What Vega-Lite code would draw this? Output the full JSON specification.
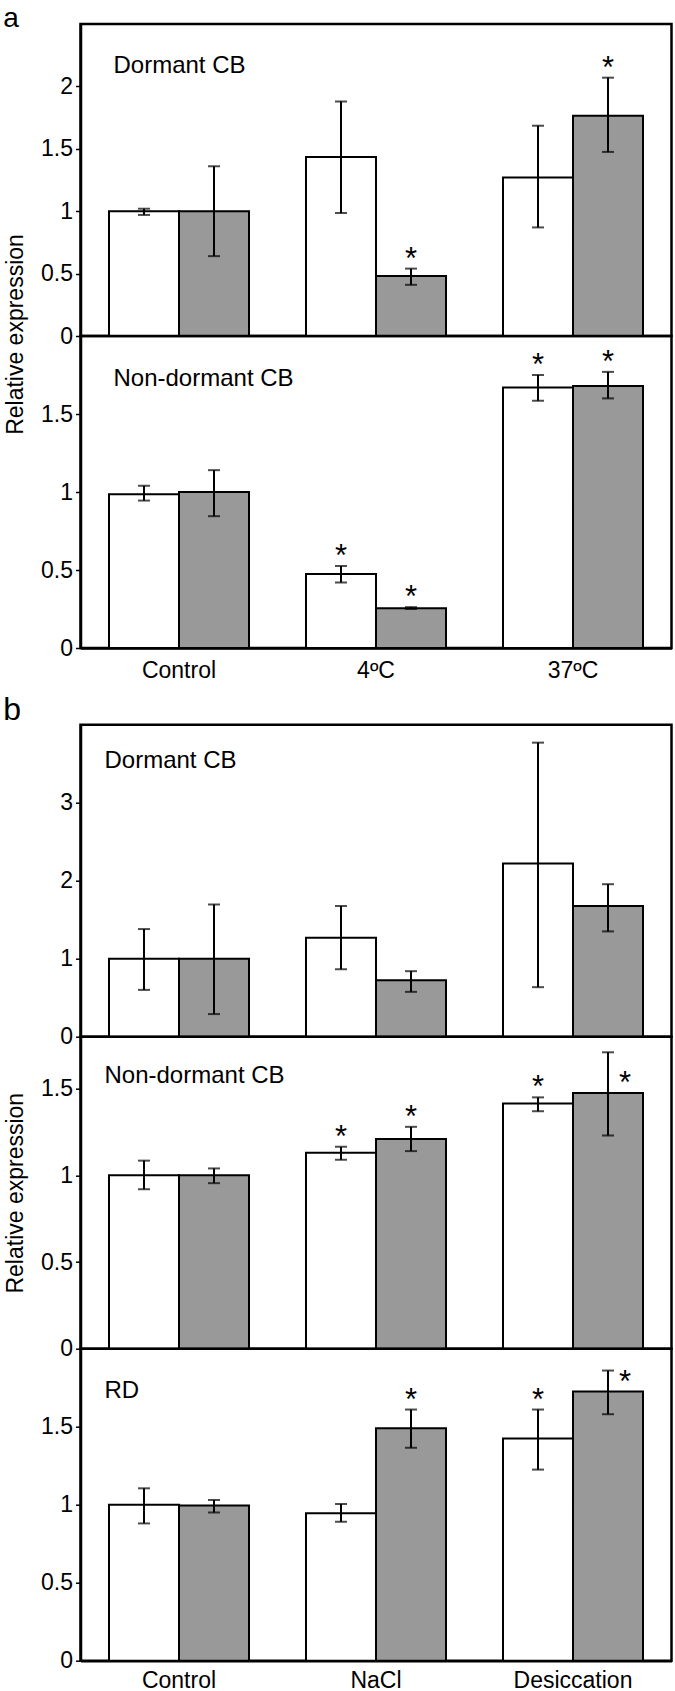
{
  "$schema": "https://vega.github.io/schema/vega-lite/v6.json",
  "padding": {"left": 2.5, "top": 5, "right": 5, "bottom": 0},
  "background": "white",
  "config": {
    "view": {"stroke": "black", "strokeWidth": 2.5},
    "font": "Liberation Sans",
    "axis": {"domainColor": "black", "domainWidth": 2.5, "tickColor": "black", "tickWidth": 1.5, "tickSize": 5, "labelColor": "black", "labelFont": "Liberation Sans", "labelFontSize": 23, "labelPadding": 3, "grid": false, "titleFont": "Liberation Sans", "titleFontSize": 23, "titleFontWeight": "normal", "titleColor": "black"},
    "axisX": {"labelAngle": 0, "ticks": false, "labelPadding": 11, "title": null},
    "title": {"font": "Liberation Sans", "color": "black", "fontWeight": "normal"},
    "text": {"font": "Liberation Sans"}
  },
  "datasets": {
    "bars": [
      {"panel": "a1", "treatment": "Control", "series": "S1", "mean": 1.0, "lower": 0.97, "upper": 1.02, "star": ""},
      {"panel": "a1", "treatment": "Control", "series": "S2", "mean": 1.0, "lower": 0.64, "upper": 1.36, "star": ""},
      {"panel": "a1", "treatment": "4ºC", "series": "S1", "mean": 1.435, "lower": 0.985, "upper": 1.88, "star": ""},
      {"panel": "a1", "treatment": "4ºC", "series": "S2", "mean": 0.48, "lower": 0.41, "upper": 0.54, "star": "top"},
      {"panel": "a1", "treatment": "37ºC", "series": "S1", "mean": 1.27, "lower": 0.87, "upper": 1.685, "star": ""},
      {"panel": "a1", "treatment": "37ºC", "series": "S2", "mean": 1.765, "lower": 1.475, "upper": 2.07, "star": "top"},
      {"panel": "a2", "treatment": "Control", "series": "S1", "mean": 0.985, "lower": 0.945, "upper": 1.04, "star": ""},
      {"panel": "a2", "treatment": "Control", "series": "S2", "mean": 1.0, "lower": 0.845, "upper": 1.14, "star": ""},
      {"panel": "a2", "treatment": "4ºC", "series": "S1", "mean": 0.475, "lower": 0.42, "upper": 0.525, "star": "top"},
      {"panel": "a2", "treatment": "4ºC", "series": "S2", "mean": 0.255, "lower": 0.25, "upper": 0.262, "star": "top"},
      {"panel": "a2", "treatment": "37ºC", "series": "S1", "mean": 1.67, "lower": 1.585, "upper": 1.75, "star": "top"},
      {"panel": "a2", "treatment": "37ºC", "series": "S2", "mean": 1.68, "lower": 1.6, "upper": 1.77, "star": "top"},
      {"panel": "b1", "treatment": "Control", "series": "S1", "mean": 1.0, "lower": 0.6, "upper": 1.38, "star": ""},
      {"panel": "b1", "treatment": "Control", "series": "S2", "mean": 1.0, "lower": 0.29, "upper": 1.695, "star": ""},
      {"panel": "b1", "treatment": "NaCl", "series": "S1", "mean": 1.27, "lower": 0.865, "upper": 1.675, "star": ""},
      {"panel": "b1", "treatment": "NaCl", "series": "S2", "mean": 0.725, "lower": 0.575, "upper": 0.84, "star": ""},
      {"panel": "b1", "treatment": "Desiccation", "series": "S1", "mean": 2.22, "lower": 0.635, "upper": 3.77, "star": ""},
      {"panel": "b1", "treatment": "Desiccation", "series": "S2", "mean": 1.675, "lower": 1.35, "upper": 1.955, "star": ""},
      {"panel": "b2", "treatment": "Control", "series": "S1", "mean": 1.0, "lower": 0.92, "upper": 1.085, "star": ""},
      {"panel": "b2", "treatment": "Control", "series": "S2", "mean": 1.0, "lower": 0.955, "upper": 1.04, "star": ""},
      {"panel": "b2", "treatment": "NaCl", "series": "S1", "mean": 1.13, "lower": 1.09, "upper": 1.165, "star": "top"},
      {"panel": "b2", "treatment": "NaCl", "series": "S2", "mean": 1.21, "lower": 1.14, "upper": 1.28, "star": "top"},
      {"panel": "b2", "treatment": "Desiccation", "series": "S1", "mean": 1.415, "lower": 1.37, "upper": 1.45, "star": "top"},
      {"panel": "b2", "treatment": "Desiccation", "series": "S2", "mean": 1.475, "lower": 1.23, "upper": 1.71, "star": "side"},
      {"panel": "b3", "treatment": "Control", "series": "S1", "mean": 1.0, "lower": 0.88, "upper": 1.105, "star": ""},
      {"panel": "b3", "treatment": "Control", "series": "S2", "mean": 0.995, "lower": 0.95, "upper": 1.03, "star": ""},
      {"panel": "b3", "treatment": "NaCl", "series": "S1", "mean": 0.945, "lower": 0.89, "upper": 1.005, "star": ""},
      {"panel": "b3", "treatment": "NaCl", "series": "S2", "mean": 1.49, "lower": 1.365, "upper": 1.61, "star": "top"},
      {"panel": "b3", "treatment": "Desiccation", "series": "S1", "mean": 1.425, "lower": 1.225, "upper": 1.61, "star": "top"},
      {"panel": "b3", "treatment": "Desiccation", "series": "S2", "mean": 1.725, "lower": 1.58, "upper": 1.86, "star": "side"}
    ]
  },
  "spacing": 9.7,
  "vconcat": [
    {
      "title": {"text": "a", "anchor": "start", "frame": "bounds", "fontSize": 28, "offset": -32.7, "baseline": "alphabetic"},
      "bounds": "flush",
      "spacing": 0,
      "vconcat": [
        {
          "width": 591, "height": 312,
          "data": {"name": "bars"},
          "title": {"text": "Dormant CB", "anchor": "start", "frame": "group", "offset": -73.3, "dx": 33, "baseline": "alphabetic", "fontSize": 24},
          "transform": [{"filter": "datum.panel === 'a1'"}],
          "encoding": {
            "x": {"field": "treatment", "type": "nominal", "sort": ["Control", "4ºC", "37ºC"], "scale": {"paddingInner": 0, "paddingOuter": 0}, "axis": null},
            "xOffset": {"field": "series", "type": "nominal", "sort": ["S1", "S2"], "scale": {"paddingInner": 0, "paddingOuter": 0.407}}
          },
          "layer": [
            {"mark": {"type": "bar", "stroke": "black", "strokeWidth": 2}, "encoding": {"y": {"field": "mean", "type": "quantitative", "scale": {"domain": [0, 2.5], "nice": false}, "axis": {"values": [0, 0.5, 1, 1.5, 2], "format": "~g", "title": "Relative expression", "titleX": -58, "titleY": 310, "titleBaseline": "alphabetic", "titleAlign": "center"}}, "fill": {"field": "series", "type": "nominal", "scale": {"domain": ["S1", "S2"], "range": ["white", "#999999"]}, "legend": null}}},
            {"mark": {"type": "rule", "color": "black", "strokeWidth": 2}, "encoding": {"y": {"field": "lower", "type": "quantitative"}, "y2": {"field": "upper"}}},
            {"mark": {"type": "tick", "color": "black", "thickness": 2, "size": 12}, "encoding": {"y": {"field": "upper", "type": "quantitative"}}},
            {"mark": {"type": "tick", "color": "black", "thickness": 2, "size": 12}, "encoding": {"y": {"field": "lower", "type": "quantitative"}}},
            {"transform": [{"filter": "datum.star === 'top'"}], "mark": {"type": "text", "text": "*", "fontSize": 31, "dy": 0, "baseline": "alphabetic", "color": "black"}, "encoding": {"y": {"field": "upper", "type": "quantitative"}}},
            {"transform": [{"filter": "datum.star === 'side'"}], "mark": {"type": "text", "text": "*", "fontSize": 31, "dy": 0, "dx": 17, "baseline": "alphabetic", "color": "black"}, "encoding": {"y": {"field": "mean", "type": "quantitative"}}}
          ]
        },
        {
          "width": 591, "height": 312,
          "data": {"name": "bars"},
          "title": {"text": "Non-dormant CB", "anchor": "start", "frame": "group", "offset": -74.3, "dx": 33, "baseline": "alphabetic", "fontSize": 24},
          "transform": [{"filter": "datum.panel === 'a2'"}],
          "encoding": {
            "x": {"field": "treatment", "type": "nominal", "sort": ["Control", "4ºC", "37ºC"], "scale": {"paddingInner": 0, "paddingOuter": 0}},
            "xOffset": {"field": "series", "type": "nominal", "sort": ["S1", "S2"], "scale": {"paddingInner": 0, "paddingOuter": 0.407}}
          },
          "layer": [
            {"mark": {"type": "bar", "stroke": "black", "strokeWidth": 2}, "encoding": {"y": {"field": "mean", "type": "quantitative", "scale": {"domain": [0, 2], "nice": false}, "axis": {"values": [0, 0.5, 1, 1.5], "format": "~g", "title": null}}, "fill": {"field": "series", "type": "nominal", "scale": {"domain": ["S1", "S2"], "range": ["white", "#999999"]}, "legend": null}}},
            {"mark": {"type": "rule", "color": "black", "strokeWidth": 2}, "encoding": {"y": {"field": "lower", "type": "quantitative"}, "y2": {"field": "upper"}}},
            {"mark": {"type": "tick", "color": "black", "thickness": 2, "size": 12}, "encoding": {"y": {"field": "upper", "type": "quantitative"}}},
            {"mark": {"type": "tick", "color": "black", "thickness": 2, "size": 12}, "encoding": {"y": {"field": "lower", "type": "quantitative"}}},
            {"transform": [{"filter": "datum.star === 'top'"}], "mark": {"type": "text", "text": "*", "fontSize": 31, "dy": 0, "baseline": "alphabetic", "color": "black"}, "encoding": {"y": {"field": "upper", "type": "quantitative"}}},
            {"transform": [{"filter": "datum.star === 'side'"}], "mark": {"type": "text", "text": "*", "fontSize": 31, "dy": 0, "dx": 17, "baseline": "alphabetic", "color": "black"}, "encoding": {"y": {"field": "mean", "type": "quantitative"}}}
          ]
        }
      ]
    },
    {
      "title": {"text": "b", "anchor": "start", "frame": "bounds", "fontSize": 32, "offset": -29, "baseline": "alphabetic"},
      "bounds": "flush",
      "spacing": 0,
      "vconcat": [
        {
          "width": 591, "height": 312,
          "data": {"name": "bars"},
          "title": {"text": "Dormant CB", "anchor": "start", "frame": "group", "offset": -67, "dx": 24, "baseline": "alphabetic", "fontSize": 24},
          "transform": [{"filter": "datum.panel === 'b1'"}],
          "encoding": {
            "x": {"field": "treatment", "type": "nominal", "sort": ["Control", "NaCl", "Desiccation"], "scale": {"paddingInner": 0, "paddingOuter": 0}, "axis": null},
            "xOffset": {"field": "series", "type": "nominal", "sort": ["S1", "S2"], "scale": {"paddingInner": 0, "paddingOuter": 0.407}}
          },
          "layer": [
            {"mark": {"type": "bar", "stroke": "black", "strokeWidth": 2}, "encoding": {"y": {"field": "mean", "type": "quantitative", "scale": {"domain": [0, 4], "nice": false}, "axis": {"values": [0, 1, 2, 3], "format": "~g", "title": null}}, "fill": {"field": "series", "type": "nominal", "scale": {"domain": ["S1", "S2"], "range": ["white", "#999999"]}, "legend": null}}},
            {"mark": {"type": "rule", "color": "black", "strokeWidth": 2}, "encoding": {"y": {"field": "lower", "type": "quantitative"}, "y2": {"field": "upper"}}},
            {"mark": {"type": "tick", "color": "black", "thickness": 2, "size": 12}, "encoding": {"y": {"field": "upper", "type": "quantitative"}}},
            {"mark": {"type": "tick", "color": "black", "thickness": 2, "size": 12}, "encoding": {"y": {"field": "lower", "type": "quantitative"}}}
          ]
        },
        {
          "width": 591, "height": 312,
          "data": {"name": "bars"},
          "title": {"text": "Non-dormant CB", "anchor": "start", "frame": "group", "offset": -70.3, "dx": 24, "baseline": "alphabetic", "fontSize": 24},
          "transform": [{"filter": "datum.panel === 'b2'"}],
          "encoding": {
            "x": {"field": "treatment", "type": "nominal", "sort": ["Control", "NaCl", "Desiccation"], "scale": {"paddingInner": 0, "paddingOuter": 0}, "axis": null},
            "xOffset": {"field": "series", "type": "nominal", "sort": ["S1", "S2"], "scale": {"paddingInner": 0, "paddingOuter": 0.407}}
          },
          "layer": [
            {"mark": {"type": "bar", "stroke": "black", "strokeWidth": 2}, "encoding": {"y": {"field": "mean", "type": "quantitative", "scale": {"domain": [0, 1.8], "nice": false}, "axis": {"values": [0, 0.5, 1, 1.5], "format": "~g", "title": "Relative expression", "titleX": -58, "titleBaseline": "alphabetic", "titleAlign": "center"}}, "fill": {"field": "series", "type": "nominal", "scale": {"domain": ["S1", "S2"], "range": ["white", "#999999"]}, "legend": null}}},
            {"mark": {"type": "rule", "color": "black", "strokeWidth": 2}, "encoding": {"y": {"field": "lower", "type": "quantitative"}, "y2": {"field": "upper"}}},
            {"mark": {"type": "tick", "color": "black", "thickness": 2, "size": 12}, "encoding": {"y": {"field": "upper", "type": "quantitative"}}},
            {"mark": {"type": "tick", "color": "black", "thickness": 2, "size": 12}, "encoding": {"y": {"field": "lower", "type": "quantitative"}}},
            {"transform": [{"filter": "datum.star === 'top'"}], "mark": {"type": "text", "text": "*", "fontSize": 31, "dy": 0, "baseline": "alphabetic", "color": "black"}, "encoding": {"y": {"field": "upper", "type": "quantitative"}}},
            {"transform": [{"filter": "datum.star === 'side'"}], "mark": {"type": "text", "text": "*", "fontSize": 31, "dy": 0, "dx": 17, "baseline": "alphabetic", "color": "black"}, "encoding": {"y": {"field": "mean", "type": "quantitative"}}}
          ]
        },
        {
          "width": 591, "height": 312,
          "data": {"name": "bars"},
          "title": {"text": "RD", "anchor": "start", "frame": "group", "offset": -73, "dx": 24, "baseline": "alphabetic", "fontSize": 24},
          "transform": [{"filter": "datum.panel === 'b3'"}],
          "encoding": {
            "x": {"field": "treatment", "type": "nominal", "sort": ["Control", "NaCl", "Desiccation"], "scale": {"paddingInner": 0, "paddingOuter": 0}, "axis": {"labelPadding": 9}},
            "xOffset": {"field": "series", "type": "nominal", "sort": ["S1", "S2"], "scale": {"paddingInner": 0, "paddingOuter": 0.407}}
          },
          "layer": [
            {"mark": {"type": "bar", "stroke": "black", "strokeWidth": 2}, "encoding": {"y": {"field": "mean", "type": "quantitative", "scale": {"domain": [0, 2], "nice": false}, "axis": {"values": [0, 0.5, 1, 1.5], "format": "~g", "title": null}}, "fill": {"field": "series", "type": "nominal", "scale": {"domain": ["S1", "S2"], "range": ["white", "#999999"]}, "legend": null}}},
            {"mark": {"type": "rule", "color": "black", "strokeWidth": 2}, "encoding": {"y": {"field": "lower", "type": "quantitative"}, "y2": {"field": "upper"}}},
            {"mark": {"type": "tick", "color": "black", "thickness": 2, "size": 12}, "encoding": {"y": {"field": "upper", "type": "quantitative"}}},
            {"mark": {"type": "tick", "color": "black", "thickness": 2, "size": 12}, "encoding": {"y": {"field": "lower", "type": "quantitative"}}},
            {"transform": [{"filter": "datum.star === 'top'"}], "mark": {"type": "text", "text": "*", "fontSize": 31, "dy": 0, "baseline": "alphabetic", "color": "black"}, "encoding": {"y": {"field": "upper", "type": "quantitative"}}},
            {"transform": [{"filter": "datum.star === 'side'"}], "mark": {"type": "text", "text": "*", "fontSize": 31, "dy": 0, "dx": 17, "baseline": "alphabetic", "color": "black"}, "encoding": {"y": {"field": "mean", "type": "quantitative"}}}
          ]
        }
      ]
    }
  ]
}
